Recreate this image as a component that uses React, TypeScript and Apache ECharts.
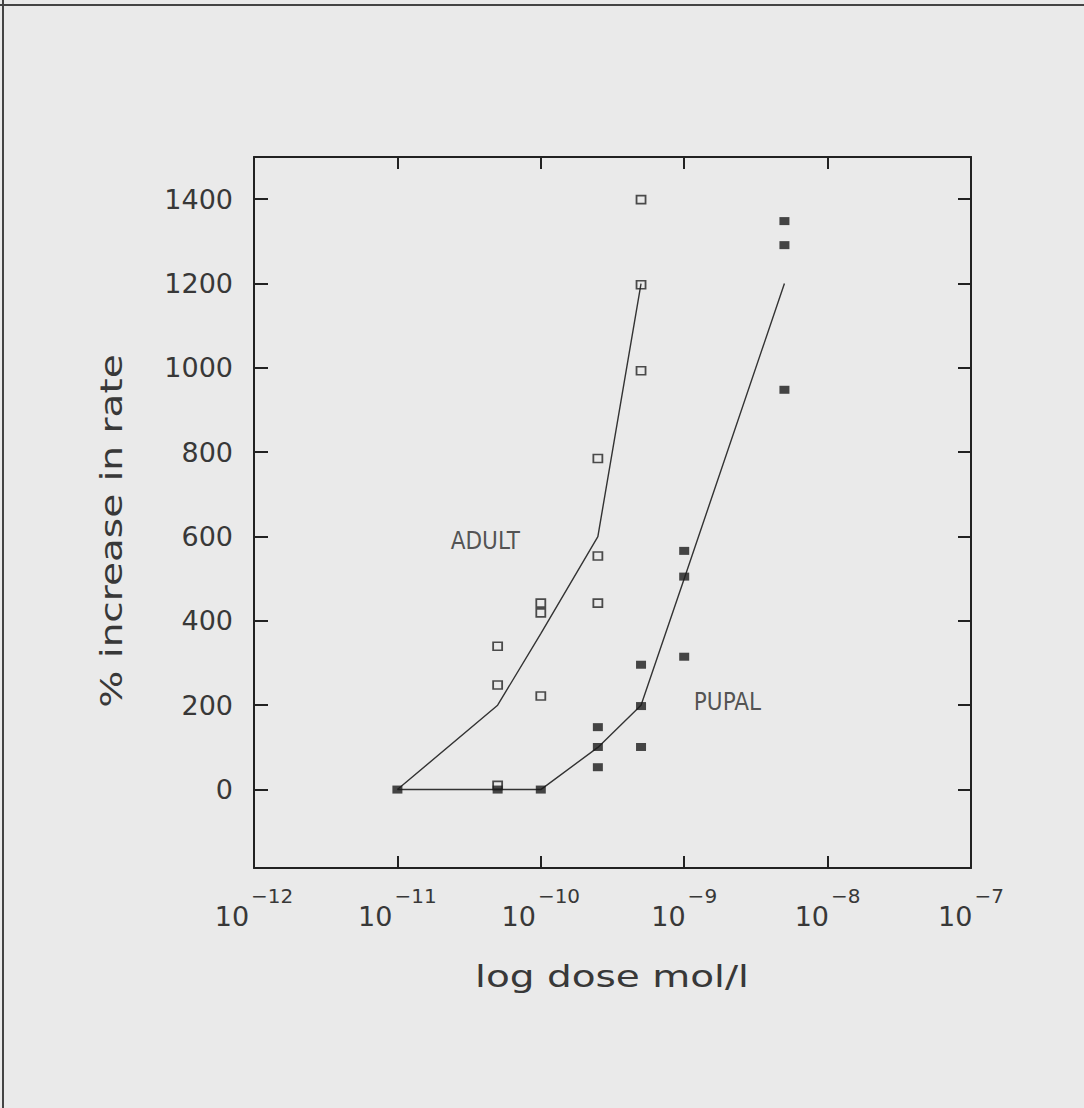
import React, { useEffect, useRef } from "react";
import * as echarts from "echarts";

// axis ranges / ticks
const xExponentRange = [-12, -7];
const yTickValues = [0, 200, 400, 600, 800, 1000, 1200, 1400];
const yRange = [-186, 1500];

// ADULT (open squares)
const adultDoses = [5e-11, 5e-11, 5e-11, 1e-10, 1e-10, 1e-10, 2.5e-10, 2.5e-10, 2.5e-10, 5e-10, 5e-10, 5e-10];
const adultValues = [340, 248, 10, 442, 419, 222, 785, 554, 442, 1399, 1197, 993];

// PUPAL (filled squares)
const pupalDoses = [1e-11, 5e-11, 1e-10, 2.5e-10, 2.5e-10, 2.5e-10, 5e-10, 5e-10, 5e-10, 1e-9, 1e-9, 1e-9, 5e-9, 5e-9, 5e-9];
const pupalValues = [0, 0, 0, 148, 101, 53, 296, 198, 101, 566, 505, 315, 1348, 1291, 948];

// fitted lines
const adultLineDoses = [1e-11, 5e-11, 1e-10, 2.5e-10, 5e-10];
const adultLineValues = [0, 200, 370, 600, 1200];
const pupalLineDoses = [1e-11, 1e-10, 2.5e-10, 5e-10, 1e-9, 5e-9];
const pupalLineValues = [0, 0, 100, 200, 500, 1200];

// annotations
const annotationNames = ["ADULT", "PUPAL"];
const annotationDoses = [4.1e-11, 2.0e-9];
const annotationValues = [590, 208];

const zip = (xs: number[], ys: number[]) => xs.map((x, i) => [x, ys[i]]);

const FONT = '"DejaVu Sans", "Liberation Sans", sans-serif';
const INK = "#222";
const TEXT = "#383838";
const BG = "#eaeaea";

export default function App() {
  const ref = useRef<HTMLDivElement>(null);

  useEffect(() => {
    if (!ref.current) return;
    const chart = echarts.init(ref.current, undefined, { renderer: "svg" });

    const xMin = Math.pow(10, xExponentRange[0]);
    const xMax = Math.pow(10, xExponentRange[1]);

    const axisLine = { show: true, onZero: false, lineStyle: { color: INK, width: 2 } };

    const option: any = {
      animation: false,
      backgroundColor: BG,
      grid: { left: 254, top: 157, width: 717, height: 711, containLabel: false },
      xAxis: [
        {
          type: "log",
          logBase: 10,
          min: xMin,
          max: xMax,
          position: "bottom",
          axisLine,
          axisTick: { show: true, inside: true, length: 12, lineStyle: { color: INK, width: 2 } },
          minorTick: { show: false },
          splitLine: { show: false },
          axisLabel: {
            margin: 18,
            formatter: (v: number) => {
              const e = Math.round(Math.log10(v));
              return `{b|10}{s|\u2212${Math.abs(e)}}`;
            },
            rich: {
              b: { fontSize: 27, fontFamily: FONT, color: TEXT, lineHeight: 44, verticalAlign: "bottom" },
              s: { fontSize: 20, fontFamily: FONT, color: TEXT, lineHeight: 22, verticalAlign: "top", padding: [0, 0, 0, 2] },
            },
          },
        },
        {
          type: "log",
          logBase: 10,
          min: xMin,
          max: xMax,
          position: "top",
          axisLine,
          axisTick: { show: true, inside: true, length: 12, lineStyle: { color: INK, width: 2 } },
          minorTick: { show: false },
          splitLine: { show: false },
          axisLabel: { show: false },
        },
      ],
      yAxis: [
        {
          type: "value",
          min: yRange[0],
          max: yRange[1],
          position: "left",
          axisLine,
          axisTick: { show: true, inside: true, length: 14, customValues: yTickValues, lineStyle: { color: INK, width: 2 } },
          splitLine: { show: false },
          axisLabel: {
            customValues: yTickValues,
            margin: 21,
            fontSize: 27,
            fontFamily: FONT,
            color: TEXT,
            formatter: (v: number) => String(v),
          },
        },
        {
          type: "value",
          min: yRange[0],
          max: yRange[1],
          position: "right",
          axisLine,
          axisTick: { show: true, inside: true, length: 13, customValues: yTickValues, lineStyle: { color: INK, width: 2 } },
          splitLine: { show: false },
          axisLabel: { show: false, customValues: yTickValues },
        },
      ],
      series: [
        {
          type: "line",
          data: zip(adultLineDoses, adultLineValues),
          symbol: "none",
          lineStyle: { color: "#333", width: 1.4 },
          z: 2,
        },
        {
          type: "line",
          data: zip(pupalLineDoses, pupalLineValues),
          symbol: "none",
          lineStyle: { color: "#333", width: 1.4 },
          z: 2,
        },
        {
          type: "scatter",
          data: zip(adultDoses, adultValues),
          symbol: "rect",
          symbolSize: [9, 8],
          itemStyle: { color: "rgba(0,0,0,0)", borderColor: INK, borderWidth: 1.7 },
          z: 3,
        },
        {
          type: "scatter",
          data: zip(pupalDoses, pupalValues),
          symbol: "rect",
          symbolSize: [10, 8],
          itemStyle: { color: "#1a1a1a" },
          z: 4,
        },
        {
          type: "scatter",
          data: annotationNames.map((n, i) => ({ name: n, value: [annotationDoses[i], annotationValues[i]] })),
          symbolSize: 0,
          label: {
            show: true,
            position: "inside",
            formatter: (p: any) => p.name,
            fontFamily: '"Liberation Sans Narrow", "DejaVu Sans Condensed", sans-serif',
            fontSize: 24,
            color: "#2a2a2a",
          },
          z: 5,
        },
      ],
      graphic: [
        { type: "line", shape: { x1: 0, y1: 5, x2: 1084, y2: 5 }, style: { stroke: "#444", lineWidth: 2 } },
        { type: "line", shape: { x1: 3, y1: 0, x2: 3, y2: 1108 }, style: { stroke: "#444", lineWidth: 2 } },
        {
          type: "text",
          x: 112,
          y: 531,
          rotation: Math.PI / 2,
          scaleX: 1.3,
          style: {
            text: "% increase in rate",
            font: `30px ${FONT}`,
            fill: TEXT,
            textAlign: "center",
            textVerticalAlign: "middle",
            align: "center",
            verticalAlign: "middle",
          },
        },
        {
          type: "text",
          x: 612,
          y: 977,
          scaleX: 1.3,
          style: {
            text: "log dose mol/l",
            font: `30px ${FONT}`,
            fill: TEXT,
            textAlign: "center",
            textVerticalAlign: "middle",
            align: "center",
            verticalAlign: "middle",
          },
        },
      ],
    };

    chart.setOption(option);
    return () => chart.dispose();
  }, []);

  return (
    <div
      ref={ref}
      style={{ position: "fixed", left: 0, top: 0, width: 1084, height: 1108 }}
    />
  );
}
